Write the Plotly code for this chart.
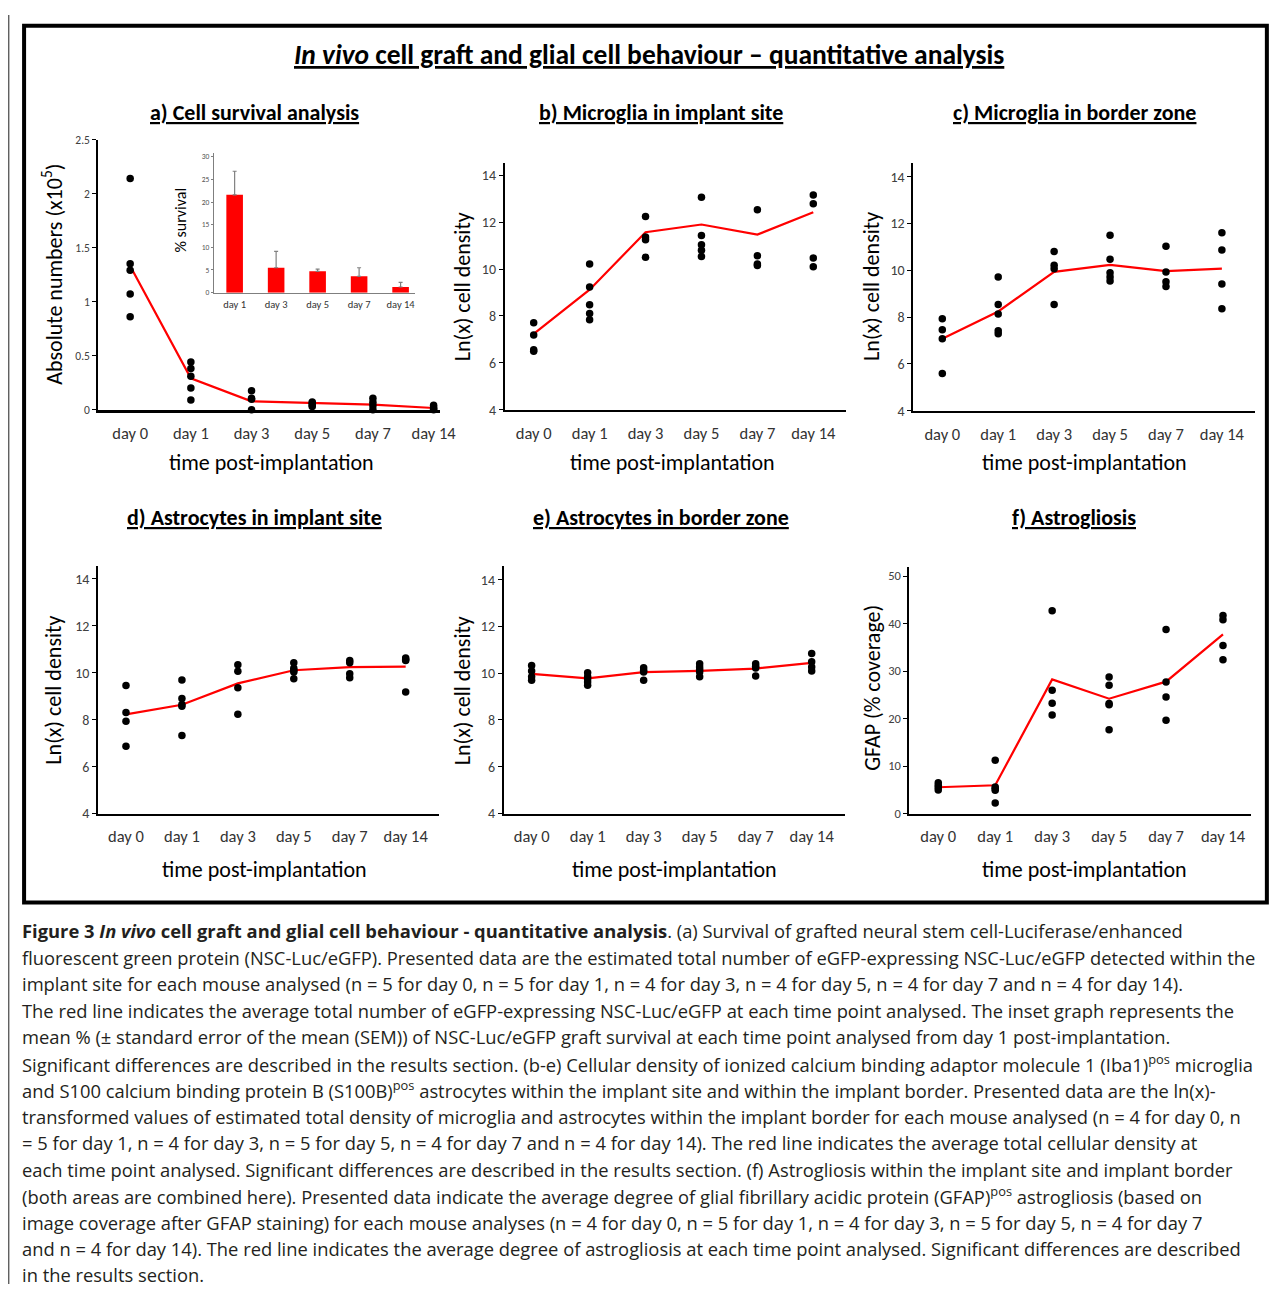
import plotly.graph_objects as go

# figure size; the page is rendered with default body margins and slightly scaled
W, H = 1282, 1285
OX, OY = 8, 15.5   # page offset of the plot div
S = 0.9877         # render scale observed

days = ["day 0", "day 1", "day 3", "day 5", "day 7", "day 14"]
inset_days = ["day 1", "day 3", "day 5", "day 7", "day 14"]

# a) Cell survival analysis (absolute numbers x10^5)
a_pts = [[2.14, 1.35, 1.29, 1.07, 0.86],
         [0.44, 0.38, 0.31, 0.20, 0.09],
         [0.175, 0.105, 0.095, 0.0],
         [0.07, 0.06, 0.04, 0.03],
         [0.105, 0.068, 0.037, 0.0],
         [0.04, 0.02, 0.005, 0.0]]
a_mean = [1.33, 0.29, 0.077, 0.06, 0.046, 0.015]

# inset: % survival
inset_pct = [21.6, 5.5, 4.7, 3.6, 1.25]
inset_sem = [5.2, 3.6, 0.5, 1.9, 1.0]

# b) Microglia in implant site
b_pts = [[7.71, 7.19, 6.56, 6.49],
         [10.22, 9.23, 8.48, 8.10, 7.84],
         [12.24, 11.37, 11.25, 10.50],
         [13.06, 11.43, 11.04, 10.80, 10.54],
         [12.53, 10.57, 10.22, 10.15],
         [13.16, 12.79, 10.47, 10.10]]
b_mean = [7.23, 9.12, 11.57, 11.90, 11.47, 12.42]

# c) Microglia in border zone
c_pts = [[7.93, 7.46, 7.07, 5.59],
         [9.71, 8.54, 8.13, 7.41, 7.29],
         [10.80, 10.21, 10.07, 8.54],
         [11.50, 10.47, 9.89, 9.71, 9.54],
         [11.03, 9.93, 9.51, 9.31],
         [11.60, 10.87, 9.41, 8.36]]
c_mean = [7.07, 8.24, 9.93, 10.23, 9.96, 10.07]

# d) Astrocytes in implant site
d_pts = [[9.46, 8.31, 7.94, 6.87],
         [9.69, 8.91, 8.65, 8.58, 7.33],
         [10.34, 10.07, 9.36, 8.23],
         [10.43, 10.19, 10.10, 10.03, 9.75],
         [10.53, 10.43, 9.96, 9.79],
         [10.63, 10.57, 10.52, 9.18]]
d_mean = [8.23, 8.64, 9.55, 10.11, 10.24, 10.26]

# e) Astrocytes in border zone
e_pts = [[10.33, 10.09, 9.85, 9.70],
         [10.02, 9.85, 9.75, 9.62, 9.49],
         [10.23, 10.12, 10.05, 9.70],
         [10.40, 10.27, 10.16, 10.05, 9.85],
         [10.40, 10.30, 10.22, 9.88],
         [10.84, 10.49, 10.27, 10.09]]
e_mean = [9.97, 9.78, 10.05, 10.10, 10.20, 10.44]

# f) Astrogliosis (GFAP % coverage)
f_pts = [[6.50, 5.96, 5.47, 4.98],
         [11.22, 5.61, 5.30, 4.91, 2.24],
         [42.70, 25.95, 23.21, 20.76],
         [28.75, 27.00, 23.20, 22.90, 17.67],
         [38.78, 27.70, 24.54, 19.64],
         [41.72, 40.81, 35.41, 32.40]]
f_mean = [5.54, 5.96, 28.26, 24.19, 27.77, 37.73]

panel_titles = ["a) Cell survival analysis", "b) Microglia in implant site",
                "c) Microglia in border zone", "d) Astrocytes in implant site",
                "e) Astrocytes in border zone", "f) Astrogliosis"]
y_titles = ["Absolute numbers (x10<sup>5</sup>)", "Ln(x) cell density", "Ln(x) cell density",
            "Ln(x) cell density", "Ln(x) cell density", "GFAP (% coverage)"]
x_title = "time post-implantation"
main_title = "<i>In vivo</i> cell graft and glial cell behaviour \u2013 quantitative analysis"

caption_lines = [
    "<b>Figure 3 <i>In vivo</i> cell graft and glial cell behaviour - quantitative analysis</b>. (a) Survival of grafted neural stem cell-Luciferase/enhanced",
    "fluorescent green protein (NSC-Luc/eGFP). Presented data are the estimated total number of eGFP-expressing NSC-Luc/eGFP detected within the",
    "implant site for each mouse analysed (n = 5 for day 0, n = 5 for day 1, n = 4 for day 3, n = 4 for day 5, n = 4 for day 7 and n = 4 for day 14).",
    "The red line indicates the average total number of eGFP-expressing NSC-Luc/eGFP at each time point analysed. The inset graph represents the",
    "mean % (\u00b1 standard error of the mean (SEM)) of NSC-Luc/eGFP graft survival at each time point analysed from day 1 post-implantation.",
    "Significant differences are described in the results section. (b-e) Cellular density of ionized calcium binding adaptor molecule 1 (Iba1)<sup>pos</sup> microglia",
    "and S100 calcium binding protein B (S100B)<sup>pos</sup> astrocytes within the implant site and within the implant border. Presented data are the ln(x)-",
    "transformed values of estimated total density of microglia and astrocytes within the implant border for each mouse analysed (n = 4 for day 0, n",
    "= 5 for day 1, n = 4 for day 3, n = 5 for day 5, n = 4 for day 7 and n = 4 for day 14). The red line indicates the average total cellular density at",
    "each time point analysed. Significant differences are described in the results section. (f) Astrogliosis within the implant site and implant border",
    "(both areas are combined here). Presented data indicate the average degree of glial fibrillary acidic protein (GFAP)<sup>pos</sup> astrogliosis (based on",
    "image coverage after GFAP staining) for each mouse analyses (n = 4 for day 0, n = 5 for day 1, n = 4 for day 3, n = 5 for day 5, n = 4 for day 7",
    "and n = 4 for day 14). The red line indicates the average degree of astrogliosis at each time point analysed. Significant differences are described",
    "in the results section.",
]

FIG_FONT = "Carlito, Calibri, Lato, sans-serif"
CAP_FONT = "Open Sans, Noto Sans, sans-serif"


def fx(x):
    return (x / S - OX) / W


def fy(y):
    return 1 - (y / S - OY) / H


panels = [
    dict(pts=a_pts, mean=a_mean, xd=(98, 440), yd=(140, 410), yr=[0, 2.5],
         tv=[0, 0.5, 1, 1.5, 2, 2.5], tt=["0", "0.5", "1", "1.5", "2", "2.5"], xr=[-0.53, 5.1],
         tfs=11.5, title_xy=(255, 113), ytitle_xy=(52, 275), xtitle_xy=(272, 463)),
    dict(pts=b_pts, mean=b_mean, xd=(505, 847), yd=(163, 410), yr=[4, 14.54],
         tv=[4, 6, 8, 10, 12, 14], tt=None, xr=[-0.52, 5.59],
         tfs=14, title_xy=(662, 113), ytitle_xy=(463, 287), xtitle_xy=(673, 463)),
    dict(pts=c_pts, mean=c_mean, xd=(914, 1256), yd=(163, 411), yr=[4, 14.6],
         tv=[4, 6, 8, 10, 12, 14], tt=None, xr=[-0.52, 5.59],
         tfs=14, title_xy=(1075, 113), ytitle_xy=(872, 287), xtitle_xy=(1085, 463)),
    dict(pts=d_pts, mean=d_mean, xd=(98, 439), yd=(566, 814), yr=[4, 14.57],
         tv=[4, 6, 8, 10, 12, 14], tt=None, xr=[-0.5, 5.59],
         tfs=14, title_xy=(255, 518), ytitle_xy=(54, 691), xtitle_xy=(265, 870)),
    dict(pts=e_pts, mean=e_mean, xd=(504, 846), yd=(566, 814), yr=[4, 14.6],
         tv=[4, 6, 8, 10, 12, 14], tt=None, xr=[-0.5, 5.6],
         tfs=14, title_xy=(662, 518), ytitle_xy=(463, 691), xtitle_xy=(675, 870)),
    dict(pts=f_pts, mean=f_mean, xd=(910, 1252), yd=(567, 814), yr=[0, 52.0],
         tv=[0, 10, 20, 30, 40, 50], tt=None, xr=[-0.51, 5.49],
         tfs=12.5, title_xy=(1075, 518), ytitle_xy=(873, 688), xtitle_xy=(1085, 870)),
]

fig = go.Figure()
layout = {}
annotations = []

for i, p in enumerate(panels):
    n = i + 1
    xa = "x" if n == 1 else f"x{n}"
    ya = "y" if n == 1 else f"y{n}"
    xs, ys = [], []
    for d, vals in zip(days, p["pts"]):
        xs += [d] * len(vals)
        ys += vals
    fig.add_trace(go.Scatter(x=days, y=p["mean"], mode="lines",
                             line=dict(color="#ff0000", width=2.2),
                             xaxis=xa, yaxis=ya, showlegend=False, cliponaxis=False))
    fig.add_trace(go.Scatter(x=xs, y=ys, mode="markers",
                             marker=dict(color="black", size=7.5, line=dict(width=0)),
                             xaxis=xa, yaxis=ya, showlegend=False, cliponaxis=False))
    kx = "xaxis" if n == 1 else f"xaxis{n}"
    ky = "yaxis" if n == 1 else f"yaxis{n}"
    layout[kx] = dict(domain=[fx(p["xd"][0]), fx(p["xd"][1])], anchor=ya,
                      type="category", categoryorder="array", categoryarray=days,
                      range=p["xr"], showline=True, linecolor="black",
                      linewidth=2.8 if n == 1 else 2.2,
                      ticks="", showgrid=False, zeroline=False,
                      tickfont=dict(family=FIG_FONT, size=16.5, color="#333333"),
                      ticklabelstandoff=7)
    ydict = dict(domain=[fy(p["yd"][1]), fy(p["yd"][0])], anchor=xa,
                 range=p["yr"], tickvals=p["tv"], showline=True, linecolor="black",
                 linewidth=1.6, ticks="outside", ticklen=4, tickcolor="black",
                 tickwidth=1, showgrid=False, zeroline=False,
                 tickfont=dict(family=FIG_FONT, size=p["tfs"], color="#404040"))
    if p["tt"]:
        ydict["ticktext"] = p["tt"]
    layout[ky] = ydict

    tx, ty = p["title_xy"]
    annotations.append(dict(x=fx(tx), y=fy(ty), xref="paper", yref="paper",
                            text=f"<b><u>{panel_titles[i]}</u></b>", showarrow=False,
                            font=dict(family=FIG_FONT, size=22, color="black"),
                            xanchor="center", yanchor="middle"))
    yx, yy = p["ytitle_xy"]
    annotations.append(dict(x=fx(yx), y=fy(yy), xref="paper", yref="paper",
                            text=y_titles[i], showarrow=False, textangle=-90,
                            font=dict(family=FIG_FONT, size=22, color="black"),
                            xanchor="center", yanchor="middle"))
    xx, xy = p["xtitle_xy"]
    annotations.append(dict(x=fx(xx), y=fy(xy), xref="paper", yref="paper",
                            text=x_title, showarrow=False,
                            font=dict(family=FIG_FONT, size=22, color="black"),
                            xanchor="center", yanchor="middle"))

# inset bar chart
fig.add_trace(go.Bar(x=inset_days, y=inset_pct, width=0.4,
                     marker=dict(color="#ff0000", line=dict(width=0)),
                     error_y=dict(type="data", array=inset_sem, arrayminus=[0] * len(inset_sem),
                                  symmetric=False, color="#808080", thickness=1.2, width=2),
                     xaxis="x7", yaxis="y7", showlegend=False))
layout["xaxis7"] = dict(domain=[fx(214), fx(415)], anchor="y7", type="category",
                        categoryorder="array", categoryarray=inset_days, range=[-0.5, 4.34],
                        showline=True, linecolor="#7f7f7f", linewidth=1, ticks="",
                        showgrid=False, zeroline=False,
                        tickfont=dict(family=FIG_FONT, size=10.5, color="#333333"),
                        ticklabelstandoff=2)
layout["yaxis7"] = dict(domain=[fy(293), fy(153)], anchor="x7", range=[0, 30.9],
                        tickvals=[0, 5, 10, 15, 20, 25, 30], showline=True,
                        linecolor="#7f7f7f", linewidth=1, ticks="outside", ticklen=2,
                        tickcolor="#7f7f7f", showgrid=False, zeroline=False,
                        tickfont=dict(family=FIG_FONT, size=7.5, color="#555555"))
annotations.append(dict(x=fx(181), y=fy(220), xref="paper", yref="paper",
                        text="% survival", showarrow=False, textangle=-90,
                        font=dict(family=FIG_FONT, size=16, color="black"),
                        xanchor="center", yanchor="middle"))

# main title
annotations.append(dict(x=fx(650), y=fy(55), xref="paper", yref="paper",
                        text=f"<b><u>{main_title}</u></b>", showarrow=False,
                        font=dict(family=FIG_FONT, size=27.5, color="black"),
                        xanchor="center", yanchor="middle"))

# caption
cap_y0, cap_dy = 931, 26.5
for k, line in enumerate(caption_lines):
    annotations.append(dict(x=fx(20), y=fy(cap_y0 + k * cap_dy), xref="paper", yref="paper",
                            text=line, showarrow=False, align="left",
                            font=dict(family=CAP_FONT, size=18.35, color="#231f20"),
                            xanchor="left", yanchor="middle"))

shapes = [
    dict(type="line", xref="paper", yref="paper", x0=0.0006, x1=0.0006, y0=0, y1=1,
         line=dict(color="#444444", width=1.2)),
    dict(type="rect", xref="paper", yref="paper", x0=fx(24), y0=fy(903), x1=fx(1268), y1=fy(26),
         line=dict(color="black", width=4)),
]

fig.update_layout(width=W, height=H, margin=dict(l=0, r=0, t=0, b=0),
                  paper_bgcolor="white", plot_bgcolor="rgba(0,0,0,0)",
                  annotations=annotations, shapes=shapes, bargap=0.6, **layout)

fig.write_html("out.html")
